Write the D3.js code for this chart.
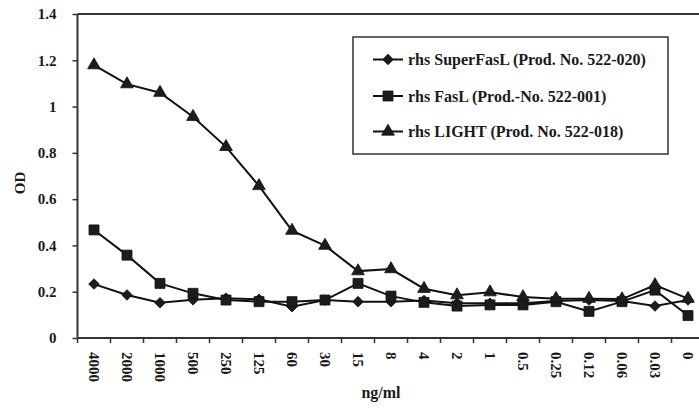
<!DOCTYPE html>
<html>
<head>
<meta charset="utf-8">
<script src="https://cdn.jsdelivr.net/npm/d3@7"></script>
<style>
    body { margin: 0; background: #fff; }
    text { font-family: "Liberation Serif", "Times New Roman", serif; font-weight: bold; fill: #1a1a1a; }
</style>
</head>
<body>
<div id="chart"></div>
<script>
var categories = ["4000", "2000", "1000", "500", "250", "125", "60", "30", "15", "8",
    "4", "2", "1", "0.5", "0.25", "0.12", "0.06", "0.03", "0"];
var superFasL = [0.233, 0.186, 0.152, 0.165, 0.172, 0.167, 0.135, 0.164, 0.157, 0.157,
    0.162, 0.150, 0.150, 0.150, 0.160, 0.164, 0.160, 0.138, 0.164];
var fasL = [0.467, 0.358, 0.236, 0.193, 0.164, 0.157, 0.157, 0.164, 0.236, 0.181,
    0.154, 0.138, 0.143, 0.143, 0.157, 0.115, 0.157, 0.207, 0.097];
var light = [1.179, 1.097, 1.06, 0.956, 0.826, 0.657, 0.464, 0.399, 0.289, 0.298,
    0.213, 0.185, 0.198, 0.177, 0.170, 0.170, 0.168, 0.229, 0.170];
var yTicks = [0, 0.2, 0.4, 0.6, 0.8, 1, 1.2, 1.4];
var seriesNames = ["rhs SuperFasL (Prod. No. 522-020)", "rhs FasL (Prod.-No. 522-001)", "rhs LIGHT (Prod. No. 522-018)"];

var width = 699;
var height = 412;

var svg = d3.select("#chart").append("svg")
    .attr("width", width)
    .attr("height", height);

var x = d3.scaleBand()
    .domain(categories)
    .range([77.5, 704.5])
    .padding(0);
var y = d3.scaleLinear()
    .domain([0, 1.4])
    .range([338, 14]);

var cx = function (c) { return x(c) + x.bandwidth() / 2; };

// y axis
var yAxis = svg.append("g")
    .attr("transform", "translate(" + x.range()[0] + ",0)")
    .call(d3.axisLeft(y).tickValues(yTicks).tickSize(5).tickPadding(16)
        .tickFormat(function (d) { return String(d); }));
yAxis.select(".domain").remove();
yAxis.selectAll("line").attr("stroke", "#333").attr("stroke-width", 1.5);
yAxis.selectAll("text")
    .attr("font-size", "15px")
    .attr("font-family", null);

svg.append("line")
    .attr("x1", x.range()[0]).attr("x2", x.range()[0])
    .attr("y1", y(1.4)).attr("y2", y(0))
    .attr("stroke", "#333").attr("stroke-width", 2);

// top frame line
svg.append("line")
    .attr("x1", x.range()[0]).attr("x2", width)
    .attr("y1", y(1.4)).attr("y2", y(1.4))
    .attr("stroke", "#333").attr("stroke-width", 2);

// x axis: labels under each category, ticks between
var xAxis = svg.append("g")
    .attr("transform", "translate(0," + y(0) + ")")
    .call(d3.axisBottom(x).tickSize(0));
xAxis.select(".domain").remove();
xAxis.selectAll("text")
    .attr("font-size", "15px")
    .attr("font-family", null)
    .attr("transform", "rotate(90)")
    .attr("text-anchor", "start")
    .attr("x", 14)
    .attr("y", 0)
    .attr("dy", "0.35em");

var bounds = categories.map(function (c) { return x(c); }).concat([x.range()[1]]);
svg.selectAll(".xtick")
    .data(bounds)
    .enter()
    .append("line")
    .attr("class", "xtick")
    .attr("x1", function (d) { return d; })
    .attr("x2", function (d) { return d; })
    .attr("y1", y(0))
    .attr("y2", y(0) + 5)
    .attr("stroke", "#333")
    .attr("stroke-width", 1.5);

svg.append("line")
    .attr("x1", x.range()[0]).attr("x2", width)
    .attr("y1", y(0)).attr("y2", y(0))
    .attr("stroke", "#333").attr("stroke-width", 2);

// axis titles
svg.append("text")
    .attr("transform", "translate(25," + y(0.67) + ") rotate(-90)")
    .attr("text-anchor", "middle")
    .attr("font-size", "15px")
    .text("OD");
svg.append("text")
    .attr("x", 381)
    .attr("y", 398)
    .attr("text-anchor", "middle")
    .attr("font-size", "16px")
    .text("ng/ml");

// series
var symbols = [
    { type: d3.symbolSquare, size: 56, rotate: 45 },
    { type: d3.symbolSquare, size: 100, rotate: 0 },
    { type: d3.symbolTriangle, size: 70, rotate: 0 }
];
var allSeries = [superFasL, fasL, light];

var line = d3.line()
    .x(function (d, i) { return cx(categories[i]); })
    .y(function (d) { return y(d); });

allSeries.forEach(function (values, k) {
    svg.append("path")
        .datum(values)
        .attr("d", line)
        .attr("fill", "none")
        .attr("stroke", "#111")
        .attr("stroke-width", 2);
});

allSeries.forEach(function (values, k) {
    var s = symbols[k];
    svg.selectAll(".m" + k)
        .data(values)
        .enter()
        .append("path")
        .attr("class", "m" + k)
        .attr("d", d3.symbol().type(s.type).size(s.size))
        .attr("transform", function (d, i) {
            return "translate(" + cx(categories[i]) + "," + y(d) + ") rotate(" + s.rotate + ")";
        })
        .attr("fill", "#1c1c1c")
        .attr("stroke", "#111")
        .attr("stroke-width", 0.8);
});

// legend
var legend = svg.append("g");
legend.append("rect")
    .attr("x", 353)
    .attr("y", 37)
    .attr("width", 315)
    .attr("height", 117)
    .attr("fill", "#fff")
    .attr("stroke", "#333")
    .attr("stroke-width", 1.5);

var rows = [59.5, 96, 131.5];
var items = legend.selectAll(".item")
    .data(seriesNames)
    .enter()
    .append("g")
    .attr("class", "item")
    .attr("transform", function (d, i) { return "translate(0," + rows[i] + ")"; });
items.append("line")
    .attr("x1", 373).attr("x2", 403)
    .attr("y1", 0).attr("y2", 0)
    .attr("stroke", "#111")
    .attr("stroke-width", 2);
items.append("path")
    .attr("d", function (d, i) { return d3.symbol().type(symbols[i].type).size(symbols[i].size)(); })
    .attr("transform", function (d, i) { return "translate(388,0) rotate(" + symbols[i].rotate + ")"; })
    .attr("fill", "#1c1c1c")
    .attr("stroke", "#111")
    .attr("stroke-width", 0.8);
items.append("text")
    .attr("x", 408)
    .attr("dy", "0.35em")
    .attr("font-size", "16px")
    .text(function (d) { return d; });
</script>
</body>
</html>
